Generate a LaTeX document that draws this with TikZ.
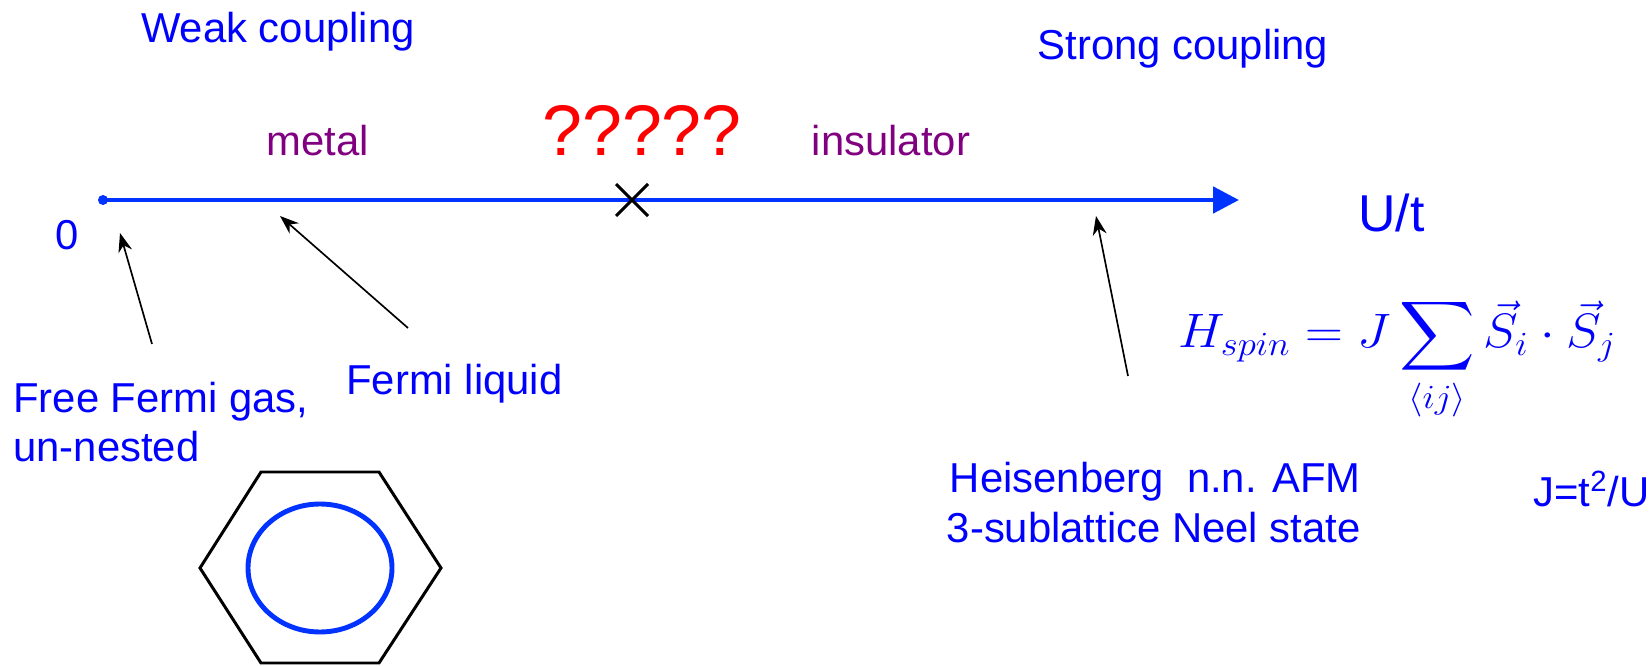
\RequirePackage{fix-cm}
\documentclass[tikz,border=0pt]{standalone}
\usepackage{amsmath,amssymb}
\usepackage[no-math]{fontspec}
\setmainfont{Liberation Sans}
\usepackage{xcolor}
\usepackage{tikz}
\usetikzlibrary{arrows.meta}

\definecolor{textblue}{RGB}{0,0,255}
\definecolor{axisblue}{RGB}{0,51,255}
\definecolor{phasepurple}{RGB}{128,0,128}

\tikzset{
  lbl/.style={text=textblue, inner sep=0pt, font=\fontsize{23.8}{28.4}\selectfont},
  phase/.style={text=phasepurple, inner sep=0pt, font=\fontsize{23.8}{28.4}\selectfont},
  pointer/.style={black, line width=0.95pt, -{Stealth[length=0.38cm,width=0.28cm]}}
}

\begin{document}
\begin{tikzpicture}
\useasboundingbox (0,0) rectangle (32.98,13.30);

\node at (5.56,12.44) (weak)[lbl, anchor=base]{Weak coupling};
\node at (23.66,12.10) (strong)[lbl, anchor=base]{Strong coupling};
\node at (6.35,10.18) (metal)[phase, anchor=base]{metal};
\node at (17.82,10.18) (insul)[phase, anchor=base]{insulator};
\node at (12.84,10.18) (qq)[anchor=base, inner sep=0pt, text=red, font=\fontsize{40.8}{48}\selectfont]{?????};

% the U/t axis
\coordinate (zero) at (2.06,9.30);
\coordinate (far) at (24.78,9.30);
\coordinate (crit) at (12.64,9.30);
\draw[axisblue, line width=2.8pt, -{Triangle[length=0.52cm,width=0.52cm]}] (zero) -- (far);
\fill[axisblue] (zero) circle (0.1);
\draw[black, line width=1.7pt] (crit) +(-0.32,-0.32) -- +(0.32,0.32)
                                (crit) +(-0.32,0.32) -- +(0.32,-0.32);
\node at (1.34,8.30) (0)[lbl, anchor=base]{0};
\node at (27.16,8.66) (Ut)[lbl, anchor=base west, font=\fontsize{29.5}{34}\selectfont]{U/t};

\node at (0.26,4.06) (gas)[lbl, anchor=base west, align=left]{Free Fermi gas,\\un-nested};
\node at (6.92,5.40) (fl)[lbl, anchor=base west]{Fermi liquid};
\node at (27.22,2.46) (heis)[lbl, anchor=base east, align=right]{Heisenberg\ \ n.n. AFM\\3-sublattice Neel state};
\node at (23.56,6.34) (ham)[anchor=base west, inner sep=0pt, text=textblue, font=\fontsize{27.5}{33}\selectfont]
  {\scalebox{1.085}[1]{$\displaystyle H_{spin}=J\sum_{\langle ij\rangle}\vec{S}_i\cdot\vec{S}_j$}};
\node at (30.66,3.16) (JU)[lbl, anchor=base west]{J=t\textsuperscript{2}/U};

% pointers to the axis
\coordinate (gasfrom) at (3.04,6.42);
\coordinate (gasto) at (2.40,8.64);
\coordinate (flfrom) at (8.16,6.74);
\coordinate (flto) at (5.60,8.98);
\coordinate (heisfrom) at (22.56,5.78);
\coordinate (heisto) at (21.92,8.98);
\draw[pointer] (gasfrom) -- (gasto);
\draw[pointer] (flfrom) -- (flto);
\draw[pointer] (heisfrom) -- (heisto);

% Fermi surface in the zone
\draw[black, line width=1.7pt] (4.00,1.94) -- (5.22,3.86) -- (7.58,3.86) -- (8.82,1.94)
  -- (7.58,0.04) -- (5.22,0.04) -- cycle;
\draw[axisblue, line width=2.8pt] (6.40,1.94) ellipse (1.44 and 1.28);
\end{tikzpicture}
\end{document}
